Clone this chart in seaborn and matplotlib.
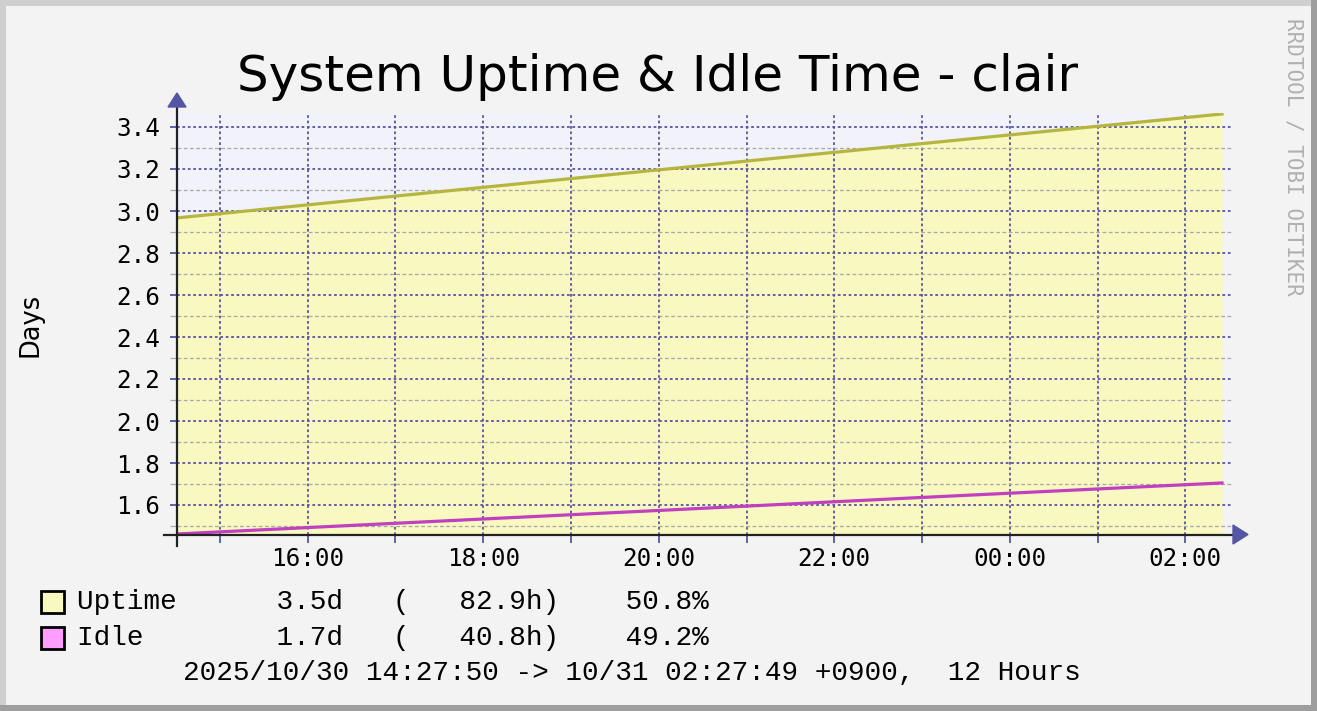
import matplotlib
matplotlib.use('Agg')
import matplotlib.pyplot as plt
from matplotlib.patches import Rectangle, Polygon
from matplotlib.lines import Line2D
import pandas as pd
import seaborn as sns

# hours after 2025/10/30 14:00 (+0900)
hours = [0.511, 3.0, 6.0, 9.0, 12.417]
uptime_days = [2.967, 3.071, 3.196, 3.321, 3.462]
idle_days = [1.462, 1.513, 1.574, 1.636, 1.705]

tick_hours = list(range(1, 13))
tick_labels = ['', '16:00', '', '18:00', '', '20:00', '', '22:00', '', '00:00', '', '02:00']
y_major = [1.6, 1.8, 2.0, 2.2, 2.4, 2.6, 2.8, 3.0, 3.2, 3.4]
y_minor = [1.5, 1.7, 1.9, 2.1, 2.3, 2.5, 2.7, 2.9, 3.1, 3.3]

legend_names = ['Uptime', 'Idle']
legend_rows = ['Uptime      3.5d   (   82.9h)    50.8%',
               'Idle        1.7d   (   40.8h)    49.2%']
legend_colors = ['#F8F8C0', '#FF9EFF']
footer = '2025/10/30 14:27:50 -> 10/31 02:27:49 +0900,  12 Hours'

W, H = 1317, 711
BG = '#F3F3F3'
GRID = '#5555A5'


def px(x, y):
    return x / W, 1 - y / H


df = pd.DataFrame({'hours': hours, 'Uptime': uptime_days, 'Idle': idle_days})

plt.rcParams['font.family'] = 'DejaVu Sans Mono'
fig = plt.figure(figsize=(W / 100, H / 100), dpi=100, facecolor=BG)

x0, y0 = px(177, 535)
x1, y1 = px(1232, 113)
ax = fig.add_axes([x0, y0, x1 - x0, y1 - y0], facecolor=BG)

ymin, ymax = 1.6 - 30 / 210, 3.4 + 14 / 210
ax.set_xlim(0.511, 12.531)
ax.set_ylim(ymin, ymax)

# plot area background and uptime area
ax.axvspan(hours[0], hours[-1], color='#F2F2FA', zorder=0, lw=0)
ax.fill_between(df['hours'], ymin, df['Uptime'], color='#F8F8C0', lw=0, zorder=1)
sns.lineplot(data=df, x='hours', y='Uptime', ax=ax, color='#B5B53F', lw=2.3, zorder=4)
sns.lineplot(data=df, x='hours', y='Idle', ax=ax, color='#C040C0', lw=2.3, zorder=4)

ax.set_xticks(tick_hours)
ax.set_xticklabels(tick_labels)
ax.set_yticks(y_major)
ax.set_yticklabels([f'{v:.1f}' for v in y_major])
ax.set_yticks(y_minor, minor=True)

ax.set_axisbelow(False)
ax.grid(which='major', axis='both', color=GRID, lw=1.3, linestyle=(0, (1.5, 1.5)), zorder=3)
ax.grid(which='minor', axis='y', color='#A8A8A8', lw=0.9, linestyle=(0, (3, 2)), zorder=2)

ax.tick_params(axis='y', which='major', direction='out', length=5, width=1.3, color=GRID,
               labelsize=17.5, pad=7)
ax.tick_params(axis='y', which='minor', direction='out', length=5, width=0.9, color='#A8A8A8')
ax.tick_params(axis='x', which='major', direction='out', length=6, width=1.3, color=GRID,
               labelsize=17.5, pad=3)
for s in ax.spines.values():
    s.set_visible(False)
ax.set_xlabel('')
ax.set_ylabel('')

# axis lines and arrows
fig.add_artist(Line2D([px(164, 0)[0], px(1233, 0)[0]], [px(0, 535)[1]] * 2,
                      color='#222222', lw=1.6, transform=fig.transFigure, zorder=5))
fig.add_artist(Line2D([px(177, 0)[0]] * 2, [px(0, 546)[1], px(0, 106)[1]],
                      color='#222222', lw=1.6, transform=fig.transFigure, zorder=5))
fig.add_artist(Polygon([px(168, 107), px(186, 107), px(177, 93)], closed=True,
                       color='#5555A5', transform=fig.transFigure, zorder=6))
fig.add_artist(Polygon([px(1233, 525), px(1233, 544), px(1248, 534.5)], closed=True,
                       color='#5555A5', transform=fig.transFigure, zorder=6))

# title, axis label, watermark
fig.text(*px(658, 77), 'System Uptime & Idle Time - clair', family='DejaVu Sans',
         fontsize=36, ha='center', va='center')
fig.text(*px(30, 325), 'Days', family='DejaVu Sans', fontsize=18.5, rotation=90,
         ha='center', va='center')
fig.text(*px(1293, 157), 'RRDTOOL / TOBI OETIKER', family='DejaVu Sans Mono', fontsize=15,
         rotation=-90, ha='center', va='center', color='#B0B0B0')

# legend
for i, (row, col) in enumerate(zip(legend_rows, legend_colors)):
    yc = 602 + i * 36
    fig.add_artist(Rectangle(px(41, yc + 11), 23 / W, 22 / H, facecolor=col, edgecolor='black',
                             lw=2, transform=fig.transFigure))
    fig.text(*px(77, yc), row, family='Liberation Mono', fontsize=20, ha='left', va='center')
fig.text(*px(183, 673), footer, family='Liberation Mono', fontsize=20, ha='left', va='center')

# bevelled frame
fig.add_artist(Rectangle((0, 0), 6 / W, 1, color='#CFCFCF', transform=fig.transFigure, lw=0))
fig.add_artist(Rectangle((0, 1 - 6 / H), 1, 6 / H, color='#CFCFCF', transform=fig.transFigure, lw=0))
fig.add_artist(Rectangle((1 - 6 / W, 0), 6 / W, 1, color='#9E9E9E', transform=fig.transFigure, lw=0))
fig.add_artist(Rectangle((0, 0), 1, 6 / H, color='#9E9E9E', transform=fig.transFigure, lw=0))

fig.savefig('out.png', dpi=100, facecolor=BG)
